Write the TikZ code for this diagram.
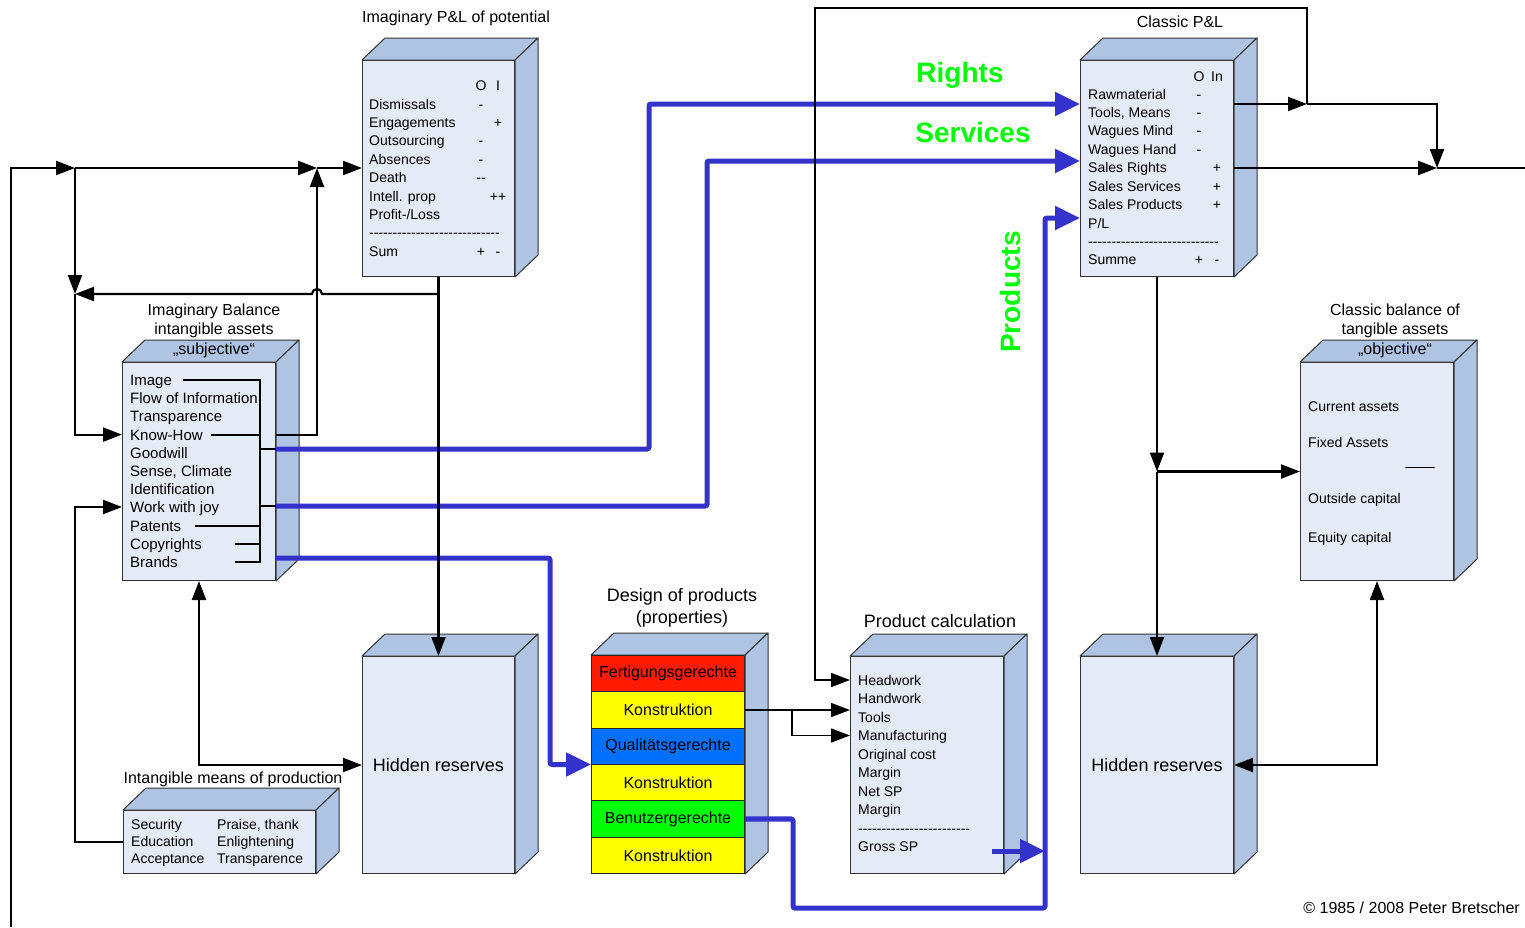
\documentclass[tikz,border=0pt]{standalone}
\usepackage{fontspec}
\setmainfont{Liberation Sans}
\usetikzlibrary{positioning, arrows.meta, calc}

\definecolor{faceFront}{HTML}{E4EAF6}
\definecolor{faceSide}{HTML}{AFC3E3}
\definecolor{flowBlue}{HTML}{3333CC}
\definecolor{tagGreen}{HTML}{00FF00}
\definecolor{stackRed}{HTML}{FF1A00}
\definecolor{stackYellow}{HTML}{FFFF00}
\definecolor{stackBlue}{HTML}{0070FF}
\definecolor{stackGreen}{HTML}{00FF00}

\newcommand{\setfs}[2]{\fontsize{#1}{#2}\selectfont}
\newcommand{\dashrow}[1]{\foreach \dashk in {1,...,#1}{-\kern0pt}}

% 3D box: name, left, top, width, height, text
\newcommand{\prism}[6]{%
  \node[front, minimum width=#4, minimum height=#5, anchor=north west] (#1) at (#2,#3) {#6};
  \draw[sideface] (#1.north west) -- ++(23,-22) -- ([shift={(23,-22)}]#1.north east) -- (#1.north east) -- cycle;
  \draw[sideface] (#1.north east) -- ++(23,-22) -- ([shift={(23,-22)}]#1.south east) -- (#1.south east) -- cycle;
}

\begin{document}
\begin{tikzpicture}[
        x=1pt, y=-1pt,
        blk/.tip={Triangle[length=19pt,width=14pt]},
        blu/.tip={Triangle[length=25pt,width=23pt]},
        front/.style={draw=black!80, fill=faceFront, line width=1pt, inner sep=0pt, font=\setfs{18}{21}},
        sideface/.style={draw=black!80, fill=faceSide, line width=1pt, line join=round},
        item/.style={anchor=west, inner sep=0pt, text height=12pt, text depth=2pt, font=\setfs{14}{16}},
        signcol/.style={inner sep=0pt, text height=12pt, text depth=2pt, font=\setfs{14}{16}},
        title/.style={align=center, inner sep=0pt, font=\setfs{16}{18.5}},
        tag/.style={text=tagGreen, inner sep=0pt, font=\bfseries\setfs{28}{30}},
        layer/.style={draw=black!85, line width=1pt, minimum width=153, minimum height=36.33, inner sep=0pt, anchor=north west, font=\setfs{16}{18}},
        conn/.style={line width=2.2pt},
        slim/.style={line width=1.6pt},
        flow/.style={draw=flowBlue, line width=5pt, rounded corners=2pt, -blu}
    ]
    \useasboundingbox (0,0) rectangle (1525,927);

    % Boxes
    \prism{ipl}{362}{60}{152}{216}{}
    \prism{cpl}{1080}{60}{153}{216}{}
    \prism{ibal}{122}{362}{153}{218}{}
    \prism{imean}{123}{810}{192}{63}{}
    \prism{hidL}{362}{656}{152}{217}{Hidden reserves}
    \prism{dp}{591}{655}{153}{218}{}
    \prism{pc}{850}{656}{153}{217}{}
    \prism{hidR}{1080}{656}{153}{217}{Hidden reserves}
    \prism{cbal}{1300}{362}{153}{218}{}

    % Titles
    \node[title] (t-ipl) at (456,18) {Imaginary P\&L of potential};
    \node[title] (t-cpl) at (1180,22) {Classic P\&L};
    \node[title] (t-ibal) at (214,321) {Imaginary Balance\\intangible assets};
    \node[title] (s-ibal) at (214,350) {„subjective“};
    \node[title] (t-imean) at (233,779) {Intangible means of production};
    \node[title, font=\setfs{18}{22}] (t-dp) at (682,608) {Design of products\\(properties)};
    \node[title, font=\setfs{18}{22}] (t-pc) at (940,621) {Product calculation};
    \node[title] (t-cbal) at (1395,321) {Classic balance of\\tangible assets};
    \node[title] (s-cbal) at (1395,350) {„objective“};
    \node[title, anchor=east] (copy) at (1520,908) {© 1985 / 2008 Peter Bretscher};

    % Imaginary P&L rows
    \node[signcol] (ipl-o) at (481,85) {O};
    \node[signcol] (ipl-i) at (498,85) {I};
    \foreach \txt/\sa/\sb [count=\k from 0] in {Dismissals/-/{}, Engagements/{}/+, Outsourcing/-/{}, Absences/-/{}, Death/-\kern0pt-/{}, {Intell. prop}/{}/++, {Profit-/Loss}/{}/{}, \dashrow{28}/{}/{}, Sum/+/-}{
        \node[item] (ipl-\k) at (369,{104+18.4*\k}) {\txt};
        \node[signcol] at (481,{104+18.4*\k}) {\sa};
        \node[signcol] at (498,{104+18.4*\k}) {\sb};
    }

    % Classic P&L rows
    \node[signcol] (cpl-o) at (1199,76) {O};
    \node[signcol] (cpl-i) at (1217,76) {In};
    \foreach \txt/\sa/\sb [count=\k from 0] in {Rawmaterial/-/{}, {Tools, Means}/-/{}, Wagues Mind/-/{}, Wagues Hand/-/{}, Sales Rights/{}/+, Sales Services/{}/+, Sales Products/{}/+, {P/L}/{}/{}, \dashrow{28}/{}/{}, Summe/+/-}{
        \node[item] (cpl-\k) at (1088,{94+18.44*\k}) {\txt};
        \node[signcol] at (1199,{94+18.44*\k}) {\sa};
        \node[signcol] at (1217,{94+18.44*\k}) {\sb};
    }

    % Imaginary balance rows
    \foreach \txt [count=\k from 0] in {Image, Flow of Information, Transparence, Know-How, Goodwill, {Sense, Climate}, Identification, Work with joy, Patents, Copyrights, Brands}
        \node[item, text height=13pt, font=\setfs{15}{17}] (ibal-\k) at (130,{380+18.2*\k}) {\txt};

    % Intangible means rows
    \foreach \txt/\txtb [count=\k from 0] in {Security/{Praise, thank}, Education/Enlightening, Acceptance/Transparence}{
        \node[item] (im-a\k) at (131,{824+17*\k}) {\txt};
        \node[item] (im-b\k) at (217,{824+17*\k}) {\txtb};
    }

    % Product calculation rows
    \foreach \txt [count=\k from 0] in {Headwork, Handwork, Tools, Manufacturing, Original cost, Margin, Net SP, Margin, \dashrow{24}, Gross SP}
        \node[item] (pc-\k) at (858,{680+18.5*\k}) {\txt};

    % Classic balance rows
    \foreach \txt/\yy [count=\k from 0] in {Current assets/406, Fixed Assets/442, Outside capital/498, Equity capital/537}
        \node[item] (cb-\k) at (1308,\yy) {\txt};
    \draw[line width=0.8pt] ($(cbal.north west)+(105,105)$) -- ++(30,0);

    % Design layers
    \foreach \c/\txt [count=\k] in {stackRed/Fertigungsgerechte, stackYellow/Konstruktion, stackBlue/Qualitätsgerechte, stackYellow/Konstruktion, stackGreen/Benutzergerechte, stackYellow/Konstruktion}
        \node[layer, fill=\c] (dp-\k) at ($(dp.north west)+(0,{36.33*(\k-1)})$) {\txt};

    % Green tags
    \node[tag] (rights) at (960,75) {Rights};
    \node[tag] (services) at (973,132) {Services};
    \node[tag, rotate=90] (products) at (1010,292) {Products};

    % Ports and junctions
    \coordinate (brx) at ($(ibal-0.west)+(130,0)$);
    \coordinate (ibK) at (ibal.east |- ibal-3);
    \coordinate (ibR) at ($(ibal.north east)+(0,87)$);
    \coordinate (ibS) at ($(ibal.north east)+(0,144)$);
    \coordinate (ibP) at ($(ibal.north east)+(0,196)$);
    \coordinate (ibKin) at (ibal.west |- ibal-3);
    \coordinate (ibJin) at ($(ibal.north west)+(0,145)$);
    \coordinate (cInR) at ($(cpl.north west)+(0,44)$);
    \coordinate (cInS) at ($(cpl.north west)+(0,101)$);
    \coordinate (cInP) at ($(cpl.north west)+(0,158)$);
    \coordinate (cOutT) at ($(cpl.north east)+(0,44)$);
    \coordinate (cOutS) at ($(cpl.north east)+(0,108)$);
    \coordinate (tj) at ($(cOutT)+(73,0)$);
    \coordinate (sj) at ($(cOutS)+(203,0)$);
    \coordinate (outR) at (1525,168);
    \coordinate (topC) at (815,8);
    \coordinate (cpd) at (cpl.south |- cbal.west);
    \coordinate (kb) at ($(dp-2.east)+(47,0)$);
    \coordinate (loopL) at (11,927);
    \coordinate (lt) at (75,168);
    \coordinate (lm) at (75,294);
    \coordinate (kt) at (317,168);
    \coordinate (ipb) at (ipl.south |- lm);
    \coordinate (rX) at (649,0);
    \coordinate (sX) at (707,0);
    \coordinate (pX) at (550,0);
    \coordinate (bY) at (793,908);
    \coordinate (cX) at (1045,0);
    \coordinate (gsp) at (992,851);

    % Bracket inside the balance
    \draw[conn] ($(ibal-0.west)+(53,0)$) -- (brx) -- (brx |- ibal-10) -- ($(ibal-10.west)+(105,0)$);
    \draw[conn] ($(ibal-3.west)+(81,0)$) -- (brx |- ibal-3);
    \draw[conn] ($(ibal-8.west)+(65,0)$) -- (brx |- ibal-8);
    \draw[conn] ($(ibal-9.west)+(105,0)$) -- (brx |- ibal-9);
    \draw[conn] (brx |- ibR) -- (ibR);
    \draw[conn] (brx |- ibS) -- (ibS);

    % Blue flows
    \draw[flow] (ibR) -| (rX |- cInR) -- (cInR);
    \draw[flow] (ibS) -| (sX |- cInS) -- (cInS);
    \draw[flow] (ibP) -| (pX |- dp.west) -- (dp.west);
    \draw[flow] (dp-5.east) -| (bY) -| (cX |- cInP) -- (cInP);
    \draw[flow] (gsp) -- (cX |- gsp);

    % Black connectors
    \draw[conn, -blk] (loopL) |- (lt);
    \draw[conn, -blk] (lt) -- (kt);
    \draw[conn, -blk] (kt) -- (ipl.west |- kt);
    \draw[conn, -blk] (lt) -- (lm);
    \draw[conn, -blk] (lm) |- (ibKin);
    \draw[conn, -blk] (ipl.south) -- (hidL.north);
    \draw[conn, -blk] (ipb) -- ($(kt |- ipb)+(5,0)$) arc[start angle=0, end angle=-180, radius=5] -- (lm);
    \draw[conn, -blk] (ibK) -| (kt);
    \draw[conn, -blk] (imean.west) -- (lt |- imean.west) |- (ibJin);
    \draw[conn, blk-blk] (ibal.south) |- (hidL.west);
    \draw[slim, -blk] (dp-2.east) -- (pc.west |- dp-2.east);
    \draw[slim, -blk] (kb) |- (pc.west |- pc-3);
    \draw[conn, -blk] (cOutT) -- (tj);
    \draw[conn, -blk] (tj) -| (sj);
    \draw[slim, -blk] (tj) |- (topC) |- (pc.west |- pc-0);
    \draw[conn, -blk] (cOutS) -- (sj);
    \draw[conn] (sj) -- (outR);
    \draw[conn, -blk] (cpl.south) -- (cpd);
    \draw[conn, -blk] (cpd) -- (cbal.west);
    \draw[conn, -blk] (cpd) -- (hidR.north);
    \draw[conn, blk-blk] (cbal.south) |- (hidR.east);
\end{tikzpicture}
\end{document}
